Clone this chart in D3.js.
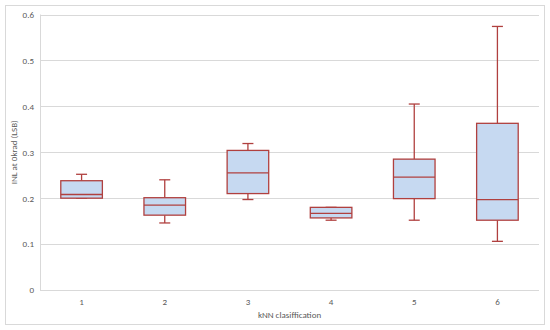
<!DOCTYPE html>
<html><head><meta charset="utf-8">
<script src="https://cdn.jsdelivr.net/npm/d3@7"></script>
<style>body{margin:0;background:#fff}svg{display:block}text{font-family:Carlito,Lato,"Liberation Sans",sans-serif}</style>
</head><body>
<svg id="c" width="550" height="330"></svg>
<script>
const categories = ["1","2","3","4","5","6"];
const whiskerLow  = [0.200, 0.146, 0.197, 0.152, 0.152, 0.106];
const q1Values    = [0.200, 0.163, 0.210, 0.157, 0.199, 0.152];
const medians     = [0.208, 0.185, 0.255, 0.167, 0.246, 0.197];
const q3Values    = [0.238, 0.201, 0.304, 0.180, 0.285, 0.363];
const whiskerHigh = [0.252, 0.240, 0.319, 0.180, 0.405, 0.574];
const yTicks = [0, 0.1, 0.2, 0.3, 0.4, 0.5, 0.6];
const yTickLabels = ["0","0.1","0.2","0.3","0.4","0.5","0.6"];
const xTitle = "kNN clasiffication";
const yTitle = "INL at 0krad (LSB)";

const svg = d3.select("#c");
const m = {l:40, r:539, t:14.5, b:290};
svg.append("rect").attr("x",5.5).attr("y",5.5).attr("width",539).attr("height",319)
  .attr("fill","#fff").attr("stroke","#d9d9d9");

const x = d3.scaleBand().domain(categories).range([m.l, m.r]);
const y = d3.scaleLinear().domain([0,0.6]).range([m.b, m.t]);

// gridlines
svg.append("g").selectAll("line").data(yTicks).join("line")
  .attr("x1",m.l).attr("x2",m.r).attr("y1",d=>Math.round(y(d))+0.5).attr("y2",d=>Math.round(y(d))+0.5)
  .attr("stroke","#d9d9d9").attr("stroke-width",1);
svg.append("line").attr("x1",m.l+0.5).attr("x2",m.l+0.5).attr("y1",m.t).attr("y2",m.b)
  .attr("stroke","#d9d9d9");

// y axis labels
const yAxis = d3.axisLeft(y).tickValues(yTicks).tickFormat((d,i)=>yTickLabels[i]).tickSize(0).tickPadding(6);
const gy = svg.append("g").attr("transform",`translate(${m.l},0)`).call(yAxis);
gy.select(".domain").remove();
gy.selectAll("text").attr("fill","#595959").attr("font-size",9);

const xAxis = d3.axisBottom(x).tickSize(0).tickPadding(9);
const gx = svg.append("g").attr("transform",`translate(0,${m.b})`).call(xAxis);
gx.select(".domain").remove();
gx.selectAll("text").attr("fill","#595959").attr("font-size",9);

svg.append("text").attr("x",(m.l+m.r)/2).attr("y",318).attr("text-anchor","middle")
  .attr("fill","#595959").attr("font-size",9).text(xTitle);
svg.append("text").attr("transform",`translate(17,${(m.t+m.b)/2}) rotate(-90)`).attr("text-anchor","middle")
  .attr("fill","#595959").attr("font-size",9).text(yTitle);

const stroke = "#b0403f";
const bw = x.bandwidth()*0.5;
const capW = 11;
const g = svg.append("g");
categories.forEach((c,i)=>{
  const cx = x(c)+x.bandwidth()/2;
  // whiskers
  g.append("line").attr("x1",cx).attr("x2",cx).attr("y1",y(whiskerHigh[i])).attr("y2",y(q3Values[i])).attr("stroke",stroke).attr("stroke-width",1.3);
  g.append("line").attr("x1",cx).attr("x2",cx).attr("y1",y(q1Values[i])).attr("y2",y(whiskerLow[i])).attr("stroke",stroke).attr("stroke-width",1.3);
  g.append("line").attr("x1",cx-capW/2).attr("x2",cx+capW/2).attr("y1",y(whiskerHigh[i])).attr("y2",y(whiskerHigh[i])).attr("stroke",stroke).attr("stroke-width",1.3);
  g.append("line").attr("x1",cx-capW/2).attr("x2",cx+capW/2).attr("y1",y(whiskerLow[i])).attr("y2",y(whiskerLow[i])).attr("stroke",stroke).attr("stroke-width",1.3);
  g.append("rect").attr("x",cx-bw/2).attr("width",bw).attr("y",y(q3Values[i])).attr("height",y(q1Values[i])-y(q3Values[i]))
    .attr("fill","#c6d9f1").attr("stroke",stroke).attr("stroke-width",1.3);
  g.append("line").attr("x1",cx-bw/2).attr("x2",cx+bw/2).attr("y1",y(medians[i])).attr("y2",y(medians[i])).attr("stroke",stroke).attr("stroke-width",1.3);
});
</script>
</body></html>
